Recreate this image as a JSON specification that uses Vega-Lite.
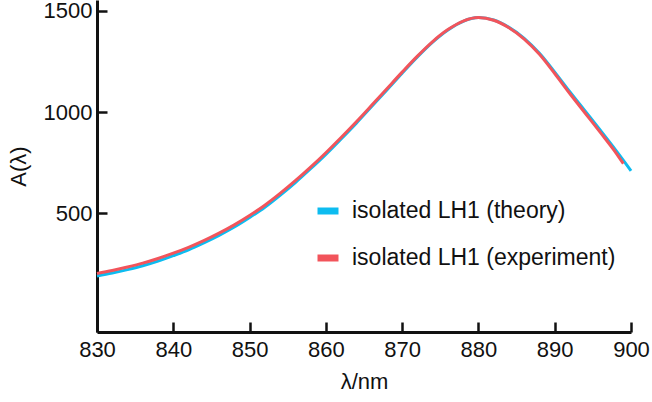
{
  "$schema": "https://vega.github.io/schema/vega-lite/v6.json",
  "width": 534,
  "height": 332,
  "autosize": {"type": "none"},
  "padding": {"left": 97, "top": 0, "right": 21, "bottom": 70},
  "background": "white",
  "config": {
    "view": {"stroke": null},
    "font": "Liberation Sans",
    "axis": {
      "domainColor": "#111",
      "domainWidth": 3,
      "ticks": true,
      "tickColor": "#111",
      "tickWidth": 2.5,
      "tickSize": -10,
      "grid": false,
      "labelFlush": false,
      "labelFont": "Liberation Sans",
      "labelFontSize": 22,
      "labelColor": "#111",
      "titleFont": "Liberation Sans",
      "titleFontSize": 22,
      "titleFontWeight": "normal",
      "titleColor": "#111"
    }
  },
  "data": {
    "values": [
      {"wl": 830, "A": 190, "series": "isolated LH1 (theory)"},
      {"wl": 832, "A": 205, "series": "isolated LH1 (theory)"},
      {"wl": 834, "A": 222, "series": "isolated LH1 (theory)"},
      {"wl": 836, "A": 241, "series": "isolated LH1 (theory)"},
      {"wl": 838, "A": 264, "series": "isolated LH1 (theory)"},
      {"wl": 840, "A": 291, "series": "isolated LH1 (theory)"},
      {"wl": 842, "A": 320, "series": "isolated LH1 (theory)"},
      {"wl": 844, "A": 354, "series": "isolated LH1 (theory)"},
      {"wl": 846, "A": 391, "series": "isolated LH1 (theory)"},
      {"wl": 848, "A": 432, "series": "isolated LH1 (theory)"},
      {"wl": 850, "A": 479, "series": "isolated LH1 (theory)"},
      {"wl": 852, "A": 530, "series": "isolated LH1 (theory)"},
      {"wl": 854, "A": 589, "series": "isolated LH1 (theory)"},
      {"wl": 856, "A": 652, "series": "isolated LH1 (theory)"},
      {"wl": 858, "A": 720, "series": "isolated LH1 (theory)"},
      {"wl": 860, "A": 791, "series": "isolated LH1 (theory)"},
      {"wl": 862, "A": 867, "series": "isolated LH1 (theory)"},
      {"wl": 864, "A": 945, "series": "isolated LH1 (theory)"},
      {"wl": 866, "A": 1027, "series": "isolated LH1 (theory)"},
      {"wl": 868, "A": 1109, "series": "isolated LH1 (theory)"},
      {"wl": 870, "A": 1192, "series": "isolated LH1 (theory)"},
      {"wl": 872, "A": 1272, "series": "isolated LH1 (theory)"},
      {"wl": 874, "A": 1345, "series": "isolated LH1 (theory)"},
      {"wl": 876, "A": 1405, "series": "isolated LH1 (theory)"},
      {"wl": 878, "A": 1448, "series": "isolated LH1 (theory)"},
      {"wl": 880, "A": 1466, "series": "isolated LH1 (theory)"},
      {"wl": 882, "A": 1454, "series": "isolated LH1 (theory)"},
      {"wl": 884, "A": 1418, "series": "isolated LH1 (theory)"},
      {"wl": 886, "A": 1364, "series": "isolated LH1 (theory)"},
      {"wl": 888, "A": 1290, "series": "isolated LH1 (theory)"},
      {"wl": 890, "A": 1197, "series": "isolated LH1 (theory)"},
      {"wl": 892, "A": 1099, "series": "isolated LH1 (theory)"},
      {"wl": 894, "A": 1004, "series": "isolated LH1 (theory)"},
      {"wl": 896, "A": 909, "series": "isolated LH1 (theory)"},
      {"wl": 898, "A": 812, "series": "isolated LH1 (theory)"},
      {"wl": 900, "A": 710, "series": "isolated LH1 (theory)"},
      {"wl": 830, "A": 203, "series": "isolated LH1 (experiment)"},
      {"wl": 832, "A": 218, "series": "isolated LH1 (experiment)"},
      {"wl": 834, "A": 235, "series": "isolated LH1 (experiment)"},
      {"wl": 836, "A": 254, "series": "isolated LH1 (experiment)"},
      {"wl": 838, "A": 277, "series": "isolated LH1 (experiment)"},
      {"wl": 840, "A": 303, "series": "isolated LH1 (experiment)"},
      {"wl": 842, "A": 332, "series": "isolated LH1 (experiment)"},
      {"wl": 844, "A": 365, "series": "isolated LH1 (experiment)"},
      {"wl": 846, "A": 402, "series": "isolated LH1 (experiment)"},
      {"wl": 848, "A": 443, "series": "isolated LH1 (experiment)"},
      {"wl": 850, "A": 489, "series": "isolated LH1 (experiment)"},
      {"wl": 852, "A": 540, "series": "isolated LH1 (experiment)"},
      {"wl": 854, "A": 598, "series": "isolated LH1 (experiment)"},
      {"wl": 856, "A": 661, "series": "isolated LH1 (experiment)"},
      {"wl": 858, "A": 728, "series": "isolated LH1 (experiment)"},
      {"wl": 860, "A": 799, "series": "isolated LH1 (experiment)"},
      {"wl": 862, "A": 874, "series": "isolated LH1 (experiment)"},
      {"wl": 864, "A": 952, "series": "isolated LH1 (experiment)"},
      {"wl": 866, "A": 1033, "series": "isolated LH1 (experiment)"},
      {"wl": 868, "A": 1115, "series": "isolated LH1 (experiment)"},
      {"wl": 870, "A": 1197, "series": "isolated LH1 (experiment)"},
      {"wl": 872, "A": 1276, "series": "isolated LH1 (experiment)"},
      {"wl": 874, "A": 1348, "series": "isolated LH1 (experiment)"},
      {"wl": 876, "A": 1407, "series": "isolated LH1 (experiment)"},
      {"wl": 878, "A": 1449, "series": "isolated LH1 (experiment)"},
      {"wl": 880, "A": 1466, "series": "isolated LH1 (experiment)"},
      {"wl": 882, "A": 1453, "series": "isolated LH1 (experiment)"},
      {"wl": 884, "A": 1416, "series": "isolated LH1 (experiment)"},
      {"wl": 886, "A": 1360, "series": "isolated LH1 (experiment)"},
      {"wl": 888, "A": 1285, "series": "isolated LH1 (experiment)"},
      {"wl": 890, "A": 1190, "series": "isolated LH1 (experiment)"},
      {"wl": 892, "A": 1090, "series": "isolated LH1 (experiment)"},
      {"wl": 894, "A": 994, "series": "isolated LH1 (experiment)"},
      {"wl": 896, "A": 898, "series": "isolated LH1 (experiment)"},
      {"wl": 898, "A": 800, "series": "isolated LH1 (experiment)"},
      {"wl": 899, "A": 745, "series": "isolated LH1 (experiment)"}
    ]
  },
  "mark": {"type": "line", "strokeWidth": 3, "interpolate": "monotone"},
  "encoding": {
    "x": {
      "field": "wl",
      "type": "quantitative",
      "scale": {"domain": [830, 900], "nice": false, "zero": false},
      "axis": {"values": [830, 840, 850, 860, 870, 880, 890, 900], "format": "d", "title": "λ/nm", "labelPadding": 17, "titlePadding": 11}
    },
    "y": {
      "field": "A",
      "type": "quantitative",
      "scale": {"domain": [-86, 1553], "nice": false, "zero": false},
      "axis": {"values": [500, 1000, 1500], "format": "d", "title": "A(λ)", "labelPadding": 15, "titlePadding": 13}
    },
    "color": {
      "field": "series",
      "type": "nominal",
      "sort": null,
      "scale": {
        "domain": ["isolated LH1 (theory)", "isolated LH1 (experiment)"],
        "range": ["#0DBCF0", "#F2545B"]
      },
      "legend": {
        "title": null,
        "orient": "none",
        "legendX": 217,
        "legendY": 197,
        "symbolType": "stroke",
        "symbolSize": 441,
        "symbolStrokeWidth": 7,
        "labelFont": "Liberation Sans",
        "labelFontSize": 23,
        "labelColor": "#111",
        "labelOffset": 10,
        "rowPadding": 19,
        "padding": 0,
        "labelLimit": 400
      }
    }
  }
}
